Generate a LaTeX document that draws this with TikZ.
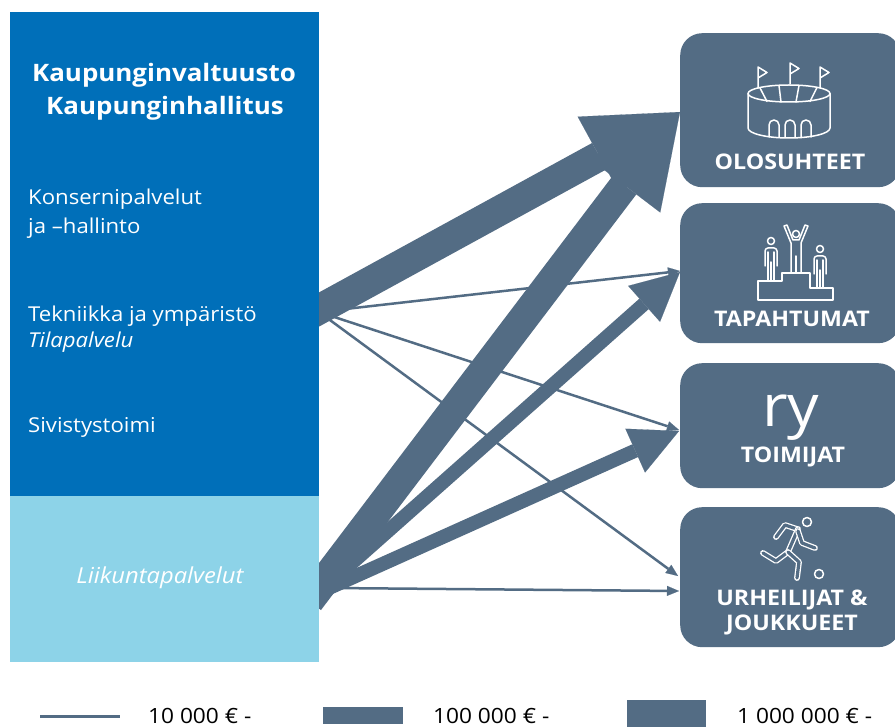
\documentclass[tikz,border=0pt]{standalone}
\usepackage{fontspec}
\setmainfont[FakeStretch=1.08]{Open Sans}
\usetikzlibrary{arrows.meta}
\definecolor{darkblue}{HTML}{006FB9}
\definecolor{lightblue}{HTML}{8DD3E8}
\definecolor{slate}{HTML}{536C84}
\begin{document}
\begin{tikzpicture}[x=1pt,y=-1pt,
  panel/.style={fill=slate, rounded corners=22pt, inner sep=0pt, anchor=north west},
  leftbox/.style={inner sep=0pt, anchor=north west},
  lefttext/.style={anchor=base west, text=white, inner sep=0pt, font=\fontsize{20.5}{25}\selectfont},
  titletext/.style={anchor=base, text=white, inner sep=0pt, font=\fontsize{24}{28}\selectfont\bfseries},
  paneltext/.style={anchor=base, text=white, inner sep=0pt, font=\fontsize{21.5}{25}\selectfont\bfseries},
  legtext/.style={anchor=base west, text=black, inner sep=0pt, font=\fontsize{21}{25}\selectfont},
  bigarrow/.style={draw=slate, line width=30pt, -{Triangle[length=92pt,width=90pt,line width=0.1pt]}},
  midarrow/.style={draw=slate, line width=14pt, -{Triangle[length=48pt,width=48pt,line width=0.1pt]}},
  thinarrow/.style={draw=slate, line width=2.5pt, -{Triangle[length=12pt,width=10pt,line width=0.1pt]}},
  icon/.style={draw=white, line width=1.5pt, line join=round, line cap=round},
  limb/.style={draw=white, line width=1.3pt, double=slate, double distance=3.2pt, line join=round, line cap=round}
]
\useasboundingbox (0,0) rectangle (895,727);
\clip (0,0) rectangle (895,727);
\fill[white] (0,0) rectangle (895,727);

% right panels
\node[panel, minimum width=220pt, minimum height=154pt] (olo) at (680,33) {};
\node[panel, minimum width=220pt, minimum height=140pt] (tap) at (680,203) {};
\node[panel, minimum width=220pt, minimum height=125pt] (toi) at (680,363) {};
\node[panel, minimum width=220pt, minimum height=140pt] (urh) at (680,507) {};

% connector end points
\coordinate (sTek) at (309,315);
\coordinate (sTekThin) at (319,312);
\coordinate (sLiik) at (309,601);
\coordinate (sLiikM) at (309,597);
\coordinate (sLiikThin) at (330,588);
\coordinate (tOlo) at (680,112);
\coordinate (tTap) at (680,272);
\coordinate (tTapThin) at (680,271);
\coordinate (tToi) at (679,431);
\coordinate (tToiThin) at (679,430);
\coordinate (tUrhA) at (678,576);
\coordinate (tUrhB) at (679,591);

% arrows
\draw[bigarrow] (sTek) -- (tOlo);
\draw[bigarrow] (sLiik) -- (tOlo);
\draw[midarrow] (sLiik) -- (tTap);
\draw[midarrow] (sLiikM) -- (tToi);
\draw[thinarrow] (sTekThin) -- (tTapThin);
\draw[thinarrow] (sTekThin) -- (tToiThin);
\draw[thinarrow] (sTekThin) -- (tUrhA);
\draw[thinarrow] (sLiikThin) -- (tUrhB);

% left boxes
\node[leftbox, fill=darkblue, minimum width=309pt, minimum height=484pt] (admin) at (10,12) {};
\node[leftbox, fill=lightblue, minimum width=309pt, minimum height=166pt] (liik) at (10,496) {};

% left texts
\node[titletext] (kv) at (164,82) {Kaupunginvaltuusto};
\node[titletext] (kh) at (165,115) {Kaupunginhallitus};
\node[lefttext] (kp) at (28,205) {Konsernipalvelut};
\node[lefttext] (kp2) at (28,234) {ja –hallinto};
\node[lefttext] (te) at (28,322) {Tekniikka ja ympäristö};
\node[lefttext] (tp) at (28,348) {\itshape Tilapalvelu};
\node[lefttext] (si) at (28,433) {Sivistystoimi};
\node[lefttext, anchor=base, font=\fontsize{22}{26}\selectfont] (lp) at (160,583) {\itshape Liikuntapalvelut};

% panel texts
\node[paneltext] (oloT) at (790,170) {OLOSUHTEET};
\node[paneltext] (tapT) at (792,327) {TAPAHTUMAT};
\node[anchor=base, text=white, inner sep=0pt, font=\fontsize{58}{60}\selectfont] (ry) at (791,427) {ry};
\node[paneltext] (toiT) at (793,463) {TOIMIJAT};
\node[paneltext] (urhT) at (792,605) {URHEILIJAT \&};
\node[paneltext] (jouT) at (792,630) {JOUKKUEET};

% stadium icon
\draw[icon] (789,93.5) ellipse [x radius=41, y radius=8.5];
\draw[icon] (760,88) -- (767,101.5);
\draw[icon] (779,85.5) -- (781,102);
\draw[icon] (799,85.5) -- (796,102);
\draw[icon] (817,87.5) -- (810,101.5);
\draw[icon] (748,93.5) -- (748,128) arc[start angle=180, end angle=0, x radius=41, y radius=10] -- (830,93.5);
\foreach \px/\py in {758/67, 790/63, 820/67}{
  \draw[icon] (\px,\py+21) -- (\px,\py) -- (\px+9,\py+5.5) -- (\px,\py+11);
}
\foreach \cx in {774,790,806}{
  \draw[icon] (\cx-5,137) -- (\cx-5,125) arc[start angle=180, end angle=360, radius=5] -- (\cx+5,137);
}

% podium icon
\draw[icon] (758,300) -- (758,281) -- (782,281) -- (782,273) -- (810,273) -- (810,288) -- (833,288) -- (833,300) -- cycle;
% left person
\draw[icon] (771,241) circle[radius=3.5];
\draw[icon, rounded corners=3pt] (765,266) -- (765,248) -- (777,248) -- (777,266);
\draw[icon] (768,281) -- (768,252); \draw[icon] (774,281) -- (774,252); \draw[icon] (771,262) -- (771,281);
% centre person
\draw[icon] (796,234) circle[radius=3.5];
\draw[icon] (791,273) -- (791,243) -- (784,226) -- (787,225) -- (793,240) -- (799,240) -- (805,225) -- (808,226) -- (801,243) -- (801,273);
\draw[icon] (796,256) -- (796,273);
% right person
\draw[icon] (820,249) circle[radius=3.5];
\draw[icon, rounded corners=3pt] (814,274) -- (814,256) -- (826,256) -- (826,274);
\draw[icon] (817,288) -- (817,260); \draw[icon] (823,288) -- (823,260); \draw[icon] (820,270) -- (820,288);

% runner icon
\draw[icon] (807,522) circle[radius=4.5];
\draw[icon] (819,574) circle[radius=4.5];
\draw[limb] (797,529) -- (785,525) -- (776,537);
\draw[limb] (798,529) -- (788,552) -- (776,561) -- (763,553);
\draw[limb] (788,552) -- (799,562) -- (797,578);
\draw[limb] (798,531) -- (802,543) -- (815,548);

% legend
\coordinate (l1a) at (40,716);
\coordinate (l1b) at (120,716);
\draw[slate, line width=3pt] (l1a) -- (l1b);
\node[legtext] (leg1) at (148,723) {10 000 € -};
\node[fill=slate, inner sep=0pt, minimum width=80pt, minimum height=17pt, anchor=north west] (leg2box) at (323,707) {};
\node[legtext] (leg2) at (433,723) {100 000 € -};
\node[fill=slate, inner sep=0pt, minimum width=79pt, minimum height=30pt, anchor=north west] (leg3box) at (627,700) {};
\node[legtext] (leg3) at (737,723) {1 000 000 € -};
\end{tikzpicture}
\end{document}
